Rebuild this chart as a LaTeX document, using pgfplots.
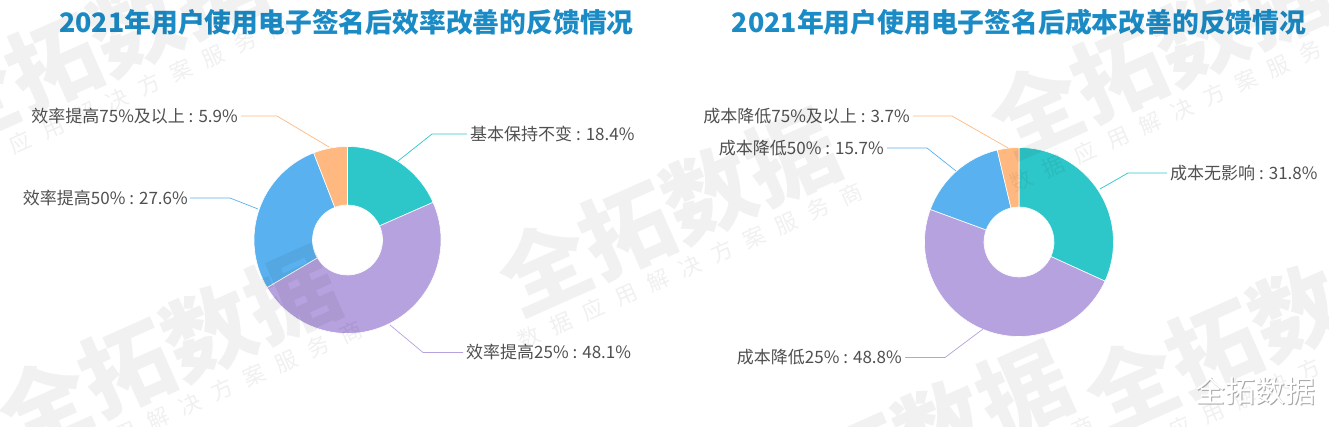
\documentclass[border=0pt]{standalone}
\usepackage{fontspec}
\setmainfont{Noto Sans CJK SC}
\usepackage{pgfplots}
\usepackage{pgfplotstable}
\pgfplotsset{compat=1.18}
\definecolor{cA}{HTML}{2EC7C9}
\definecolor{cB}{HTML}{B6A2DE}
\definecolor{cC}{HTML}{5AB1EF}
\definecolor{cD}{HTML}{FFB980}
\definecolor{titleblue}{HTML}{1B8BC6}
\definecolor{lab}{HTML}{505050}

\pgfplotstableread[col sep=comma]{
label,value,color
基本保持不变,18.4,cA
效率提高25\%,48.1,cB
效率提高50\%,27.6,cC
效率提高75\%及以上,5.9,cD
}\effdata
\pgfplotstableread[col sep=comma]{
label,value,color
成本无影响,31.8,cA
成本降低25\%,48.8,cB
成本降低50\%,15.7,cC
成本降低75\%及以上,3.7,cD
}\costdata

% #1 table, #2 cx, #3 cy, #4 R, #5 r
\newcommand\donut[5]{%
  \pgfplotstablegetrowsof{#1}\pgfmathtruncatemacro\N{\pgfplotsretval-1}%
  \def\cum{0}%
  \pgfplotsforeachungrouped \i in {0,...,\N}{%
    \pgfplotstablegetelem{\i}{value}\of{#1}\let\v\pgfplotsretval
    \pgfplotstablegetelem{\i}{color}\of{#1}\let\c\pgfplotsretval
    \pgfmathsetmacro\aA{90-3.6*\cum}%
    \pgfmathsetmacro\aB{90-3.6*(\cum+\v)}%
    \pgfmathsetmacro\cum{\cum+\v}%
    \pgfmathsetmacro\xA{#2+#4*cos(\aA)}\pgfmathsetmacro\yA{#3+#4*sin(\aA)}%
    \pgfmathsetmacro\xB{#2+#5*cos(\aB)}\pgfmathsetmacro\yB{#3+#5*sin(\aB)}%
    \edef\cmd{\noexpand\fill[fill=\c, draw=white, line width=0.6pt, line join=round] (axis cs:\xA,\yA) arc[start angle=\aA, end angle=\aB, radius=#4pt] -- (axis cs:\xB,\yB) arc[start angle=\aB, end angle=\aA, radius=#5pt] -- cycle;}%
    \cmd
  }%
}

\newcommand\wm[2]{%
  \node[rotate=24, font=\bfseries\fontsize{90}{92}\selectfont, text=black, opacity=0.055] at (axis cs:#1,#2) {全拓数据};
  \node[rotate=24, font=\fontsize{22}{24}\selectfont\addfontfeatures{LetterSpace=60}, text=black, opacity=0.06] at (axis cs:#1+22,#2-54) {数据应用解决方案服务商};
}

\begin{document}
\begin{tikzpicture}
\useasboundingbox (0,0) rectangle (1329pt,427pt);
\fill[white] (0,0) rectangle (1329pt,427pt);
\begin{axis}[
  x=1pt, y=1pt, xmin=0, xmax=1329, ymin=0, ymax=427,
  hide axis, clip=false, at={(0,0)}, anchor=south west,
  every node/.style={inner sep=0pt}
]
% donuts
\donut{\effdata}{347.5}{187}{93.5}{35}
\donut{\costdata}{1019}{185}{94.5}{35}

% titles
\node[font=\bfseries\fontsize{26.8}{30}\selectfont, text=titleblue] at (axis cs:346.5,405) {2021年用户使用电子签名后效率改善的反馈情况};
\node[font=\bfseries\fontsize{26.8}{30}\selectfont, text=titleblue] at (axis cs:1019,405) {2021年用户使用电子签名后成本改善的反馈情况};

% leader lines (left)
\draw[cA, line width=0.7pt] (axis cs:398,266) -- (axis cs:432,293) -- (axis cs:467,293);
\draw[cB, line width=0.7pt] (axis cs:390,102) -- (axis cs:423,74.5) -- (axis cs:463,74.5);
\draw[cC, line width=0.7pt] (axis cs:258,218) -- (axis cs:230,229) -- (axis cs:190,229);
\draw[cD, line width=0.7pt] (axis cs:329,280) -- (axis cs:277,311) -- (axis cs:241,311);
% leader lines (right)
\draw[cA, line width=0.7pt] (axis cs:1100,238) -- (axis cs:1128,254) -- (axis cs:1167,254);
\draw[cB, line width=0.7pt] (axis cs:983,98) -- (axis cs:945,69.5) -- (axis cs:905,69.5);
\draw[cC, line width=0.7pt] (axis cs:956,256) -- (axis cs:927,279) -- (axis cs:887,279);
\draw[cD, line width=0.7pt] (axis cs:1008,279) -- (axis cs:952,311) -- (axis cs:913,311);

% labels
\begin{scope}[every node/.style={font=\fontsize{17}{19}\selectfont, text=lab, inner sep=0pt}]
\node[anchor=west] at (axis cs:470,293) {基本保持不变 : 18.4\%};
\node[anchor=west] at (axis cs:466,74.5) {效率提高25\% : 48.1\%};
\node[anchor=east] at (axis cs:188,229) {效率提高50\% : 27.6\%};
\node[anchor=east] at (axis cs:238,311) {效率提高75\%及以上 : 5.9\%};
\node[anchor=west] at (axis cs:1170,254) {成本无影响 : 31.8\%};
\node[anchor=east] at (axis cs:902,69.5) {成本降低25\% : 48.8\%};
\node[anchor=east] at (axis cs:884,279) {成本降低50\% : 15.7\%};
\node[anchor=east] at (axis cs:910,311) {成本降低75\%及以上 : 3.7\%};
\end{scope}

% watermarks
\wm{668}{215}
\wm{168}{77}
\wm{1160}{372}
\wm{1255}{97}
\wm{95}{382}
\wm{900}{-18}

% logo
\node[font=\fontsize{30}{32}\selectfont, text=black!35] at (axis cs:1256,35) {全拓数据};
\node[font=\fontsize{30}{32}\selectfont, text=white] at (axis cs:1255,36) {全拓数据};
\end{axis}
\end{tikzpicture}
\end{document}
